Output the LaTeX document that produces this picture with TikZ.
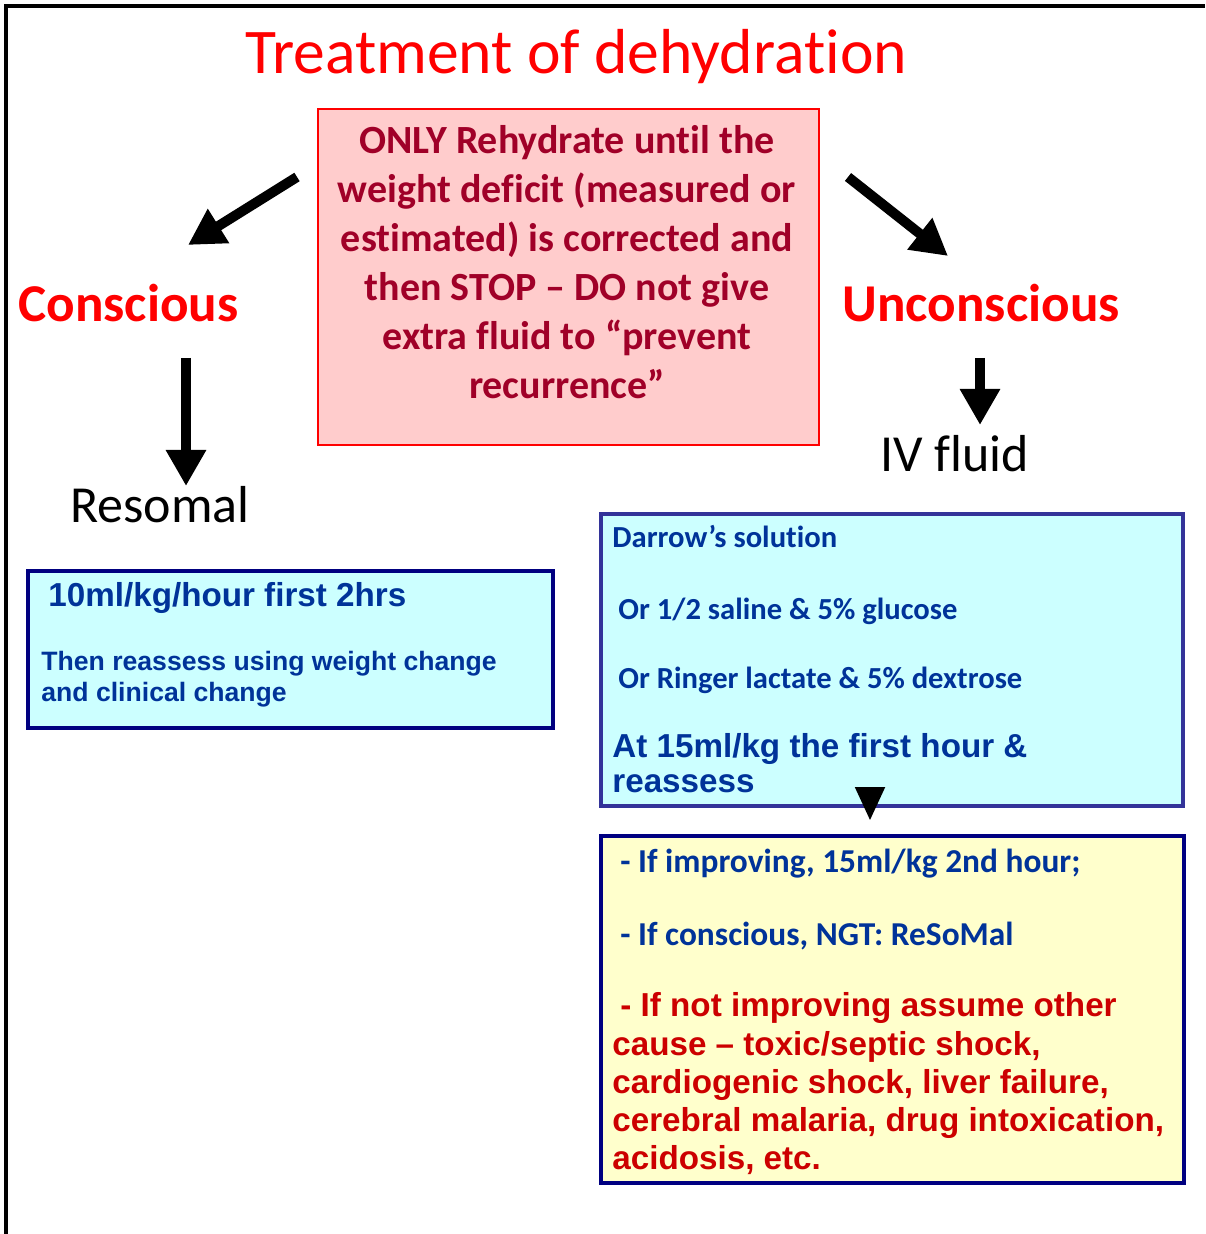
\documentclass[tikz,border=0pt]{standalone}
\usepackage{fontspec}
\setmainfont{Carlito}[Ligatures={TeX,NoCommon}, Contextuals={NoAlternate}]
\newfontfamily\arialfont{Liberation Sans}
\usetikzlibrary{arrows.meta,positioning}

\definecolor{titlered}{RGB}{255,0,0}
\definecolor{rulered}{RGB}{160,0,40}
\definecolor{rulefill}{RGB}{255,204,204}
\definecolor{cyanfill}{RGB}{204,255,255}
\definecolor{yellowfill}{RGB}{255,255,204}
\definecolor{navyline}{RGB}{0,0,128}
\definecolor{slateline}{RGB}{51,51,153}
\definecolor{textblue}{RGB}{0,51,153}
\definecolor{textred}{RGB}{204,0,0}

\begin{document}
\begin{tikzpicture}[x=0.5pt, y=-0.5pt,
	bigarrow/.style={line width=5pt, -{Triangle[length=18pt,width=19pt]}},
	panel/.style={rectangle, draw, line width=2pt, anchor=north west, inner sep=0pt},
	txtline/.style={anchor=base west, inner sep=0pt},
	heading/.style={txtline, text=titlered, font=\bfseries\fontsize{26.6}{32}\selectfont},
	route/.style={txtline, font=\fontsize{26}{31}\selectfont},
	bluec/.style={txtline, text=textblue, font=\bfseries\fontsize{15.3}{18}\selectfont},
	bluea/.style={txtline, text=textblue, font=\arialfont\bfseries\fontsize{16.6}{19}\selectfont},
	reda/.style={txtline, text=textred, font=\arialfont\bfseries\fontsize{16.6}{19}\selectfont}]

	\useasboundingbox (0,0) rectangle (1205,1234);
	\draw[line width=1.6pt] (6,1234) -- (6,6) -- (1205,6);

	% Nodes
	\node[anchor=base, inner sep=0pt, text=titlered, font=\fontsize{31.8}{38}\selectfont] (title) at (576,74) {Treatment of dehydration};

	\node[panel, draw=titlered, line width=1pt, fill=rulefill, minimum width=250.5pt, minimum height=168pt] (rule) at (317,108) {};
	\node[align=center, inner sep=0pt, text=rulered, font=\bfseries\fontsize{20}{24.5}\selectfont] (ruletxt) at (567,262)
		{ONLY Rehydrate until the\\weight deficit (measured or\\estimated) is corrected and\\then STOP – DO not give\\extra fluid to “prevent\\recurrence”};

	\node[heading] (consc) at (18,322) {Conscious};
	\node[heading] (unconsc) at (842,322) {Unconscious};
	\node[route] (resomal) at (70,522) {Resomal};
	\node[route] (ivfluid) at (880,472) {IV fluid};

	% Oral rehydration
	\node[panel, draw=navyline, fill=cyanfill, minimum width=262.5pt, minimum height=78.5pt] (oral) at (26,569) {};
	\node[bluea] (oral1) at (48,606) {10ml/kg/hour first 2hrs};
	\node[bluea, font=\arialfont\bfseries\fontsize{13.3}{16}\selectfont] (oral2) at (41,670) {Then reassess using weight change};
	\node[bluea, font=\arialfont\bfseries\fontsize{13.3}{16}\selectfont] (oral3) at (41,701) {and clinical change};

	% IV fluids
	\node[panel, draw=slateline, fill=cyanfill, minimum width=291pt, minimum height=146pt] (iv) at (599,512) {};
	\node[bluec] (iv1) at (612,547) {Darrow’s solution};
	\node[bluec] (iv2) at (618,619) {Or 1/2 saline \& 5\% glucose};
	\node[bluec] (iv3) at (618,688) {Or Ringer lactate \& 5\% dextrose};
	\node[bluea] (iv4) at (612,757) {At 15ml/kg the first hour \&};
	\node[bluea] (iv5) at (612,792) {reassess};

	% Reassessment
	\node[panel, draw=navyline, fill=yellowfill, minimum width=291.5pt, minimum height=173.5pt] (check) at (599,834) {};
	\node[bluec, font=\bfseries\fontsize{16.7}{20}\selectfont] (check1) at (620,872) {- If improving, 15ml/kg 2nd hour;};
	\node[bluec, font=\bfseries\fontsize{16.7}{20}\selectfont] (check2) at (620,945) {- If conscious, NGT: ReSoMal};
	\node[reda] (check3) at (620,1016) {- If not improving assume other};
	\node[reda] (check4) at (612,1055) {cause – toxic/septic shock,};
	\node[reda] (check5) at (612,1093) {cardiogenic shock, liver failure,};
	\node[reda] (check6) at (612,1131) {cerebral malaria, drug intoxication,};
	\node[reda] (check7) at (612,1169) {acidosis, etc.};

	% Arrow ends
	\coordinate (lfrom) at (297,177);
	\coordinate (lto) at (188,245);
	\coordinate (rfrom) at (848,177);
	\coordinate (rto) at (948,256);
	\coordinate (cfrom) at (186,358);
	\coordinate (cto) at (186,486);
	\coordinate (ufrom) at (980,358);
	\coordinate (uto) at (980,425);
	\coordinate (tfrom) at (870,787);
	\coordinate (tto) at (870,820);

	% Arrows
	\draw[bigarrow] (lfrom) -- (lto);
	\draw[bigarrow] (rfrom) -- (rto);
	\draw[bigarrow] (cfrom) -- (cto);
	\draw[bigarrow] (ufrom) -- (uto);
	\draw[line width=1pt, -{Triangle[length=16.5pt,width=15pt]}] (tfrom) -- (tto);
\end{tikzpicture}
\end{document}
